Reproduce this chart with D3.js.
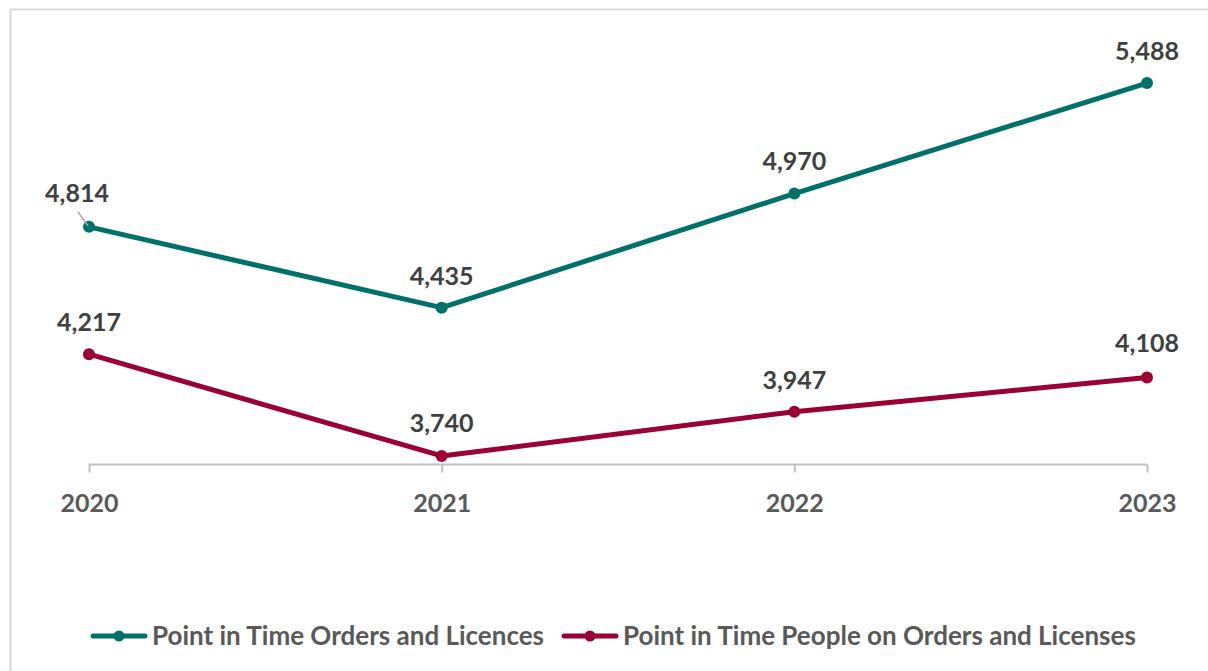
<!DOCTYPE html>
<html>
<head>
<meta charset="utf-8">
<script src="https://cdn.jsdelivr.net/npm/d3@7"></script>
<style>
  html, body { margin: 0; padding: 0; background: #fff; }
  svg { display: block; }
  text { font-family: Lato, "Open Sans", sans-serif; font-weight: bold; }
</style>
</head>
<body>
<svg id="chart" width="1208" height="671"></svg>
<script>
// Year categories along the x axis
const years = ["2020", "2021", "2022", "2023"];
// Series values
const ordersAndLicences = [4814, 4435, 4970, 5488];
const peopleOnOrders = [4217, 3740, 3947, 4108];
const seriesNames = ["Point in Time Orders and Licences", "Point in Time People on Orders and Licenses"];
const seriesColors = ["#00706B", "#9A0036"];

const svg = d3.select("#chart");
const W = 1208, H = 671;

// outer chart frame
svg.append("rect")
  .attr("x", 10.5).attr("y", 9.5)
  .attr("width", W + 10).attr("height", H + 10)
  .attr("fill", "#fff").attr("stroke", "#d9d9d9").attr("stroke-width", 2);

const x = d3.scalePoint().domain(years).range([89, 1147]);
const y = d3.scaleLinear().domain([3700, 5700]).range([464.5, 37.8]);

// category axis along the bottom
const axis = svg.append("g").attr("transform", `translate(0,${y(3700)})`)
  .call(d3.axisBottom(x).tickSize(8).tickPadding(22).tickSizeOuter(0));
axis.select(".domain").attr("stroke", "#bfbfbf").attr("stroke-width", 2)
  .attr("d", `M${x(years[0])},0H${x(years[3])}`);
axis.selectAll(".tick line").attr("stroke", "#bfbfbf").attr("stroke-width", 2);
axis.selectAll(".tick text").attr("fill", "#595959")
  .style("font-size", "25px").style("font-family", "Lato, 'Open Sans', sans-serif").style("font-weight", "bold");

const series = [
  { name: seriesNames[0], values: ordersAndLicences, color: seriesColors[0] },
  { name: seriesNames[1], values: peopleOnOrders, color: seriesColors[1] }
];

const line = d3.line().x((d, i) => x(years[i])).y(d => y(d));
const fmt = d3.format(",");

// label offsets (dx, dy from point) per series
const labelOffsets = [
  [[-12, -25], [0, -23], [0, -24], [0, -23]],
  [[0, -23], [0, -24], [0, -23], [0, -25]]
];

series.forEach((s, si) => {
  svg.append("path").datum(s.values)
    .attr("d", line).attr("fill", "none")
    .attr("stroke", s.color).attr("stroke-width", 5)
    .attr("stroke-linejoin", "round").attr("stroke-linecap", "round");
  svg.selectAll(null).data(s.values).enter().append("circle")
    .attr("cx", (d, i) => x(years[i])).attr("cy", d => y(d))
    .attr("r", 6).attr("fill", s.color);
  svg.selectAll(null).data(s.values).enter().append("text")
    .attr("x", (d, i) => x(years[i]) + labelOffsets[si][i][0])
    .attr("y", (d, i) => y(d) + labelOffsets[si][i][1])
    .attr("text-anchor", "middle")
    .attr("fill", "#404040").style("font-size", "25px")
    .text(d => fmt(d));
});

// leader line for the first label
svg.append("line")
  .attr("x1", x(years[0]) - 11).attr("y1", y(ordersAndLicences[0]) - 15)
  .attr("x2", x(years[0]) - 1).attr("y2", y(ordersAndLicences[0]) - 1)
  .attr("stroke", "#a6a6a6").attr("stroke-width", 1.5);

// legend
const legendItems = [
  { x: 93, color: seriesColors[0], name: seriesNames[0] },
  { x: 564, color: seriesColors[1], name: seriesNames[1] }
];
legendItems.forEach(it => {
  const g = svg.append("g").attr("transform", `translate(${it.x},636)`);
  g.append("line").attr("x1", 0).attr("x2", 52).attr("y1", 0).attr("y2", 0)
    .attr("stroke", it.color).attr("stroke-width", 5).attr("stroke-linecap", "round");
  g.append("circle").attr("cx", 26).attr("cy", 0).attr("r", 5.5).attr("fill", it.color);
  g.append("text").attr("x", 59).attr("y", 9)
    .attr("fill", "#595959").style("font-size", "26px").text(it.name);
});
</script>
</body>
</html>
